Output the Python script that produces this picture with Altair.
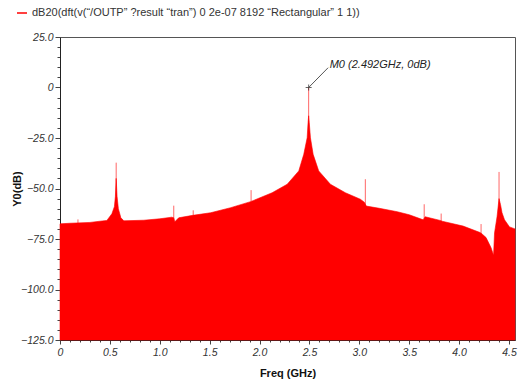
import altair as alt
import pandas as pd

# Envelope of the spectrum (GHz, dB)
freq_ghz = [0.00, 0.10, 0.30, 0.40, 0.47, 0.52, 0.545, 0.555, 0.563, 0.572, 0.585, 0.61, 0.64,
            0.84, 1.00, 1.12, 1.14, 1.15, 1.19, 1.33, 1.51, 1.71, 1.91, 2.126, 2.277, 2.393,
            2.443, 2.477, 2.486, 2.492, 2.498, 2.51, 2.537, 2.593, 2.71, 2.86, 3.01, 3.05,
            3.07, 3.2, 3.38, 3.5, 3.64, 3.66, 3.81, 3.83, 4.04, 4.21, 4.23, 4.27, 4.32, 4.345,
            4.355, 4.38, 4.40, 4.415, 4.43, 4.455, 4.505, 4.56]
level_db = [-67.5, -67.2, -66.8, -66.2, -65.8, -62.5, -59.0, -54.0, -45.0, -54.0, -60.0, -64.5, -66.0,
            -65.7, -65.0, -64.2, -64.5, -66.5, -64.5, -63.3, -62.0, -59.5, -56.5, -52.1, -47.9, -41.3,
            -33.1, -24.9, -17.4, -14.0, -17.4, -24.9, -33.1, -41.3, -47.9, -52.1, -55.3, -56.8,
            -58.7, -59.8, -61.5, -63.0, -65.5, -64.0, -65.8, -66.2, -68.6, -71.8, -72.5, -74.3, -79.3, -83.0,
            -72.0, -64.0, -55.0, -58.0, -62.0, -65.5, -69.0, -70.0]

# Narrow spurs (GHz, peak dB)
spur_ghz = [0.18, 0.563, 1.14, 1.335, 1.915, 2.492, 3.06, 3.65, 3.82, 4.22, 4.40]
spur_db = [-65.3, -37.2, -58.5, -60.8, -50.8, 0.0, -45.4, -57.8, -62.4, -67.6, -41.8]

# Marker
marker_ghz = [2.492]
marker_db = [0.0]
marker_text = ["M0 (2.492GHz, 0dB)"]

series_name = "dB20(dft(v(\u201c/OUTP\u201d ?result \u201ctran\u201d) 0 2e-07 8192 \u201cRectangular\u201d 1 1))"

x_ticks = [round(i * 0.1, 1) for i in range(46)]
y_ticks = list(range(-125, 26, 5))

FONT = "Liberation Sans"
RED = "#ff0000"

env = pd.DataFrame({"f": freq_ghz, "db": level_db, "series": [series_name] * len(freq_ghz)})
spurs = pd.DataFrame({"f": spur_ghz, "db": spur_db})
mk = pd.DataFrame({"f": marker_ghz, "db": marker_db, "label": marker_text,
                   "fl": [2.687], "dbl": [9.8], "ft": [2.703], "dbt": [11.0]})

xs = alt.Scale(domain=[0, 4.56], nice=False, zero=False)
ys = alt.Scale(domain=[-125, 25], nice=False, zero=False)

x_major = "abs(datum.value*2-round(datum.value*2))<0.001"
y_major = "datum.value % 25 == 0"

x_axis = alt.Axis(
    values=x_ticks, title="Freq (GHz)",
    labelExpr=f"{x_major} ? (datum.value==0 ? '0' : format(datum.value,'.1f')) : ''",
    tickSize={"condition": {"test": x_major, "value": 4}, "value": 2},
    labelFont=FONT, labelFontSize=10.5, labelFontStyle="italic", labelColor="#333",
    labelOverlap=False, labelFlush=False, labelPadding=3,
    tickColor="#444", domainColor="#222", grid=False,
    titleFont=FONT, titleFontSize=11, titleFontWeight="bold", titleColor="#111",
    titleY=33, titleBaseline="middle",
)
y_axis = alt.Axis(
    values=y_ticks, title="Y0(dB)",
    labelExpr=f"{y_major} ? (datum.value==0 ? '0' : format(datum.value,'.1f')) : ''",
    tickSize={"condition": {"test": y_major, "value": 5}, "value": 3},
    labelFont=FONT, labelFontSize=10.5, labelFontStyle="italic", labelColor="#333",
    labelOverlap=False, labelFlush=False, labelPadding=2,
    tickColor="#444", domainColor="#222", grid=False,
    titleFont=FONT, titleFontSize=11, titleFontWeight="bold", titleColor="#111",
    titleX=-43, titleY=151.5, titleAngle=270, titleAlign="center", titleBaseline="middle",
)

X = lambda fld: alt.X(fld, type="quantitative", scale=xs, axis=x_axis)
Y = lambda fld: alt.Y(fld, type="quantitative", scale=ys, axis=y_axis)

area = alt.Chart(env).mark_area(interpolate="linear", stroke=RED, strokeWidth=0.6).encode(
    x=X("f"),
    y=Y("db"),
    y2=alt.datum(-125),
    color=alt.Color("series:N", scale=alt.Scale(range=[RED]),
                    legend=alt.Legend(title=None, orient="none", legendX=-44, legendY=-30,
                                      symbolType="stroke", symbolStrokeColor=RED,
                                      symbolStrokeWidth=1.5, symbolSize=100,
                                      labelFont=FONT, labelFontSize=11, labelColor="#333",
                                      labelLimit=600, padding=0)),
)

spur = alt.Chart(spurs).mark_rule(color=RED, strokeWidth=1, opacity=0.6).encode(
    x=X("f"), y=Y("db"), y2=alt.datum(-125)
)

leader = alt.Chart(mk).mark_rule(color="#555", strokeWidth=1).encode(
    x=X("f"), y=Y("db"), x2="fl:Q", y2="dbl:Q"
)
cross = alt.Chart(mk).mark_point(shape="M-1,0L1,0M0,-1L0,1", size=36, filled=False,
                                 color="#222", strokeWidth=1).encode(
    x=X("f"), y=Y("db")
)
label = alt.Chart(mk).mark_text(align="left", baseline="middle", font=FONT, fontSize=11,
                                fontStyle="italic", color="#222").encode(
    x=X("ft"), y=Y("dbt"), text="label:N"
)

chart = alt.layer(area, spur, leader, cross, label).properties(
    width=455, height=303,
    autosize=alt.AutoSizeParams(type="none"),
    padding={"left": 60, "top": 37, "right": 4, "bottom": 42},
    background="white",
).configure_view(stroke="#555", strokeWidth=1)

chart.save("out.html", embed_options={"renderer": "svg", "actions": False})
